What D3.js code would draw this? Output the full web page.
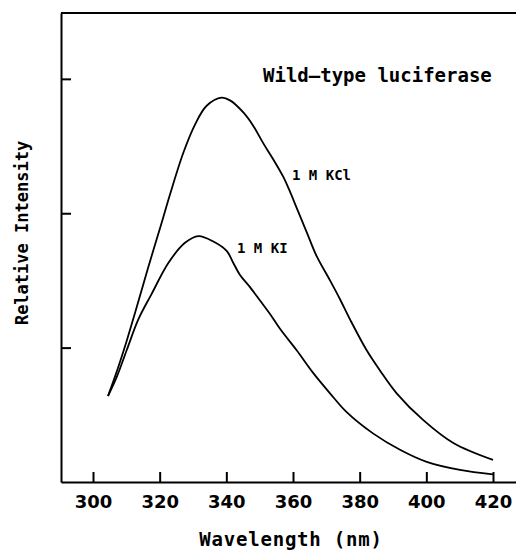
<!DOCTYPE html>
<html>
<head>
<meta charset="utf-8">
<script src="https://cdn.jsdelivr.net/npm/d3@7"></script>
<style>
  body { margin: 0; background: #fff; }
  svg { display: block; }
  .tick text { font-family: "DejaVu Sans", sans-serif; font-weight: bold; font-size: 18px; fill: #000; }
  .lbl { font-family: "DejaVu Sans Mono", monospace; font-weight: bold; fill: #000; }
</style>
</head>
<body>
<svg id="chart" width="516" height="550"></svg>
<script>
// spectra (wavelength nm, relative intensity)
const kclWave = [304.5, 307.1, 310.1, 313.1, 316.6, 320.6, 323.1, 327.1, 330.6, 334.1, 338.6, 341.1, 345.1, 348.1, 351.1, 354.1, 357.1, 359.1, 361.1, 364.1, 367.1, 371.1, 374.1, 377.1, 382.1, 386.1, 391.1, 399.1, 408.1, 420];
const kclVals = [0.64, 0.82, 1.05, 1.30, 1.60, 1.93, 2.14, 2.45, 2.66, 2.80, 2.86, 2.84, 2.75, 2.65, 2.52, 2.40, 2.27, 2.16, 2.04, 1.86, 1.68, 1.50, 1.36, 1.21, 0.98, 0.83, 0.66, 0.46, 0.29, 0.164];

const kiWave = [304.5, 307.1, 310.1, 313.6, 317.6, 322.6, 327.6, 331.6, 336.1, 340.1, 342.1, 344.1, 347.1, 350.1, 353.1, 356.1, 361.1, 366.1, 371.1, 376.1, 384.1, 392.1, 400.1, 410.1, 420];
const kiVals = [0.64, 0.78, 0.98, 1.21, 1.40, 1.63, 1.78, 1.83, 1.79, 1.72, 1.63, 1.54, 1.45, 1.35, 1.25, 1.14, 0.98, 0.81, 0.66, 0.52, 0.36, 0.24, 0.15, 0.09, 0.057];

const xTicks = [300, 320, 340, 360, 380, 400, 420];
const yTicks = [1, 2, 3];

const svg = d3.select("#chart");
const mLeft = 61, mRight = 516, mTop = 13, mBottom = 482;

const x = d3.scaleLinear().domain([290.4, 426.9]).range([mLeft, mRight]);
const y = d3.scaleLinear().domain([0, 3.49]).range([mBottom, mTop]);

// frame top line
svg.append("line")
  .attr("x1", mLeft).attr("x2", mRight)
  .attr("y1", mTop).attr("y2", mTop)
  .attr("stroke", "#000").attr("stroke-width", 2);

const xAxis = svg.append("g")
  .attr("transform", `translate(0,${mBottom})`)
  .call(d3.axisBottom(x).tickValues(xTicks).tickSize(-10).tickSizeOuter(0).tickPadding(13));
xAxis.select(".domain").attr("stroke-width", 2);
xAxis.selectAll(".tick line").attr("stroke-width", 2);

const yAxis = svg.append("g")
  .attr("transform", `translate(${mLeft},0)`)
  .call(d3.axisLeft(y).tickValues(yTicks).tickSize(-10).tickSizeOuter(0).tickFormat(""));
yAxis.select(".domain").attr("stroke-width", 2);
yAxis.selectAll(".tick line").attr("stroke-width", 2);

const line = d3.line()
  .x(d => x(d[0]))
  .y(d => y(d[1]))
  .curve(d3.curveCatmullRom.alpha(0.5));

const series = [
  { wave: kclWave, vals: kclVals },
  { wave: kiWave, vals: kiVals }
];

series.forEach(s => {
  svg.append("path")
    .datum(s.wave.map((w, i) => [w, s.vals[i]]))
    .attr("fill", "none")
    .attr("stroke", "#000")
    .attr("stroke-width", 1.8)
    .attr("stroke-linejoin", "round")
    .attr("d", line);
});

// text
svg.append("text").attr("class", "lbl")
  .attr("x", 263).attr("y", 82)
  .style("font-size", "19px")
  .text("Wild\u2013type luciferase");

svg.append("text").attr("class", "lbl")
  .attr("x", 292).attr("y", 180)
  .style("font-size", "14px")
  .text("1 M KCl");

svg.append("text").attr("class", "lbl")
  .attr("x", 237).attr("y", 253)
  .style("font-size", "14px")
  .text("1 M KI");

svg.append("text").attr("class", "lbl")
  .attr("x", 291).attr("y", 546)
  .attr("text-anchor", "middle")
  .style("font-size", "19px")
  .style("letter-spacing", "0.8px")
  .text("Wavelength (nm)");

svg.append("text").attr("class", "lbl")
  .attr("transform", "translate(28,233) rotate(-90)")
  .attr("text-anchor", "middle")
  .style("font-size", "17px")
  .text("Relative Intensity");
</script>
</body>
</html>
